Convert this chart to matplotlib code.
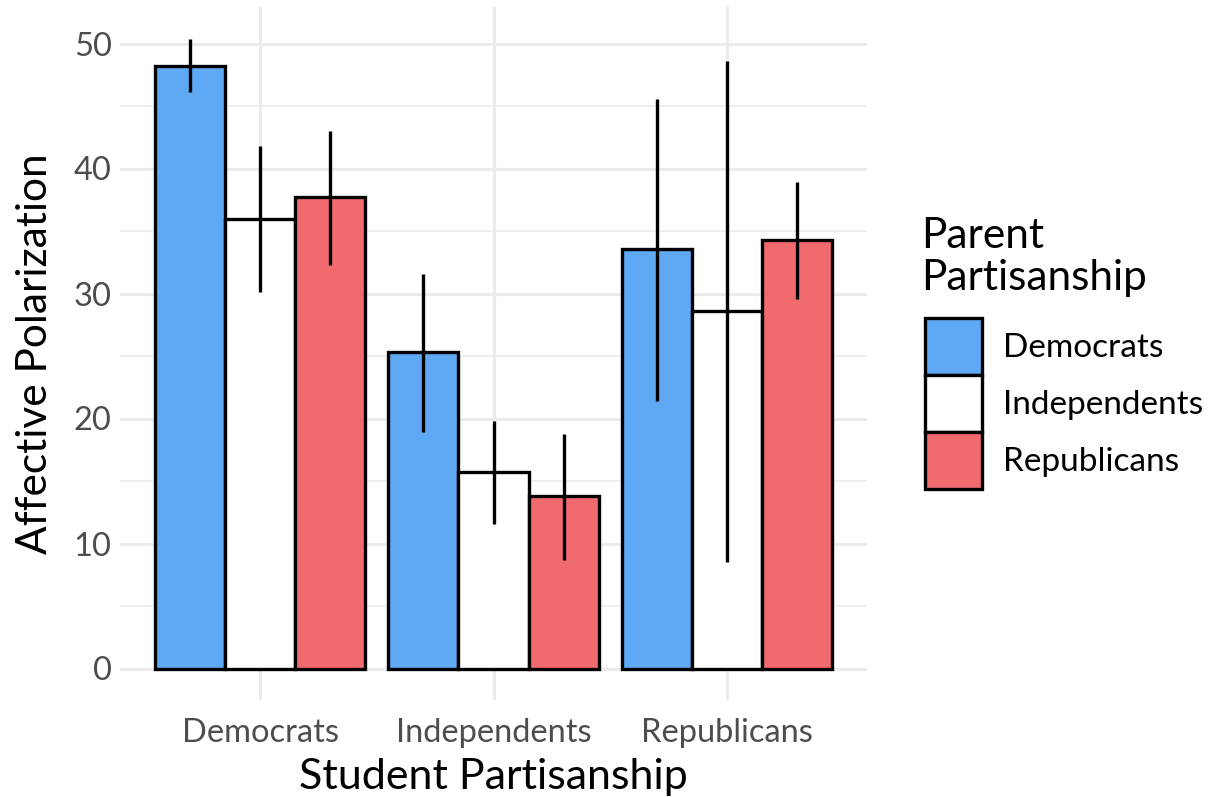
import matplotlib.pyplot as plt
import matplotlib.patches as mpatches
import numpy as np

plt.rcParams['font.family'] = ['Lato', 'DejaVu Sans']

# student partisanship groups on the x axis, parent partisanship as the fill
students = ['Democrats', 'Independents', 'Republicans']
parents = ['Democrats', 'Independents', 'Republicans']
colors = ['#5FA8F3', '#FFFFFF', '#F16A6E']

# mean affective polarization, one list per parent group
dem_parent = [48.2, 25.3, 33.6]
ind_parent = [36.0, 15.7, 28.6]
rep_parent = [37.7, 13.8, 34.3]

# confidence interval bounds
dem_low = [46.1, 18.9, 21.4]
dem_high = [50.4, 31.6, 45.6]
ind_low = [30.1, 11.6, 8.5]
ind_high = [41.8, 19.8, 48.6]
rep_low = [32.3, 8.7, 29.6]
rep_high = [43.0, 18.8, 38.9]

means = [dem_parent, ind_parent, rep_parent]
lows = [dem_low, ind_low, rep_low]
highs = [dem_high, ind_high, rep_high]

fig = plt.figure(figsize=(12.1, 7.97), dpi=100)
ax = fig.add_axes([120 / 1210, 1 - 700 / 797, 747 / 1210, 693 / 797])

x = np.arange(1, len(students) + 1)
width = 0.3
for i in range(len(parents)):
    pos = x + (i - 1) * width
    ax.bar(pos, means[i], width=width, color=colors[i], edgecolor='black',
           linewidth=2.4, zorder=2)
    ax.vlines(pos, lows[i], highs[i], color='black', linewidth=2.4, zorder=3)

ax.set_xlim(0.4, 3.6)
ax.set_ylim(-2.52, 52.92)
ax.set_xticks(x)
ax.set_xticklabels(students)
ax.set_yticks(np.arange(0, 51, 10))
ax.set_yticks(np.arange(5, 51, 10), minor=True)

ax.grid(which='major', color='#EBEBEB', linewidth=2.2, zorder=0)
ax.grid(which='minor', axis='y', color='#EBEBEB', linewidth=1.1, zorder=0)
ax.set_axisbelow(True)
for s in ax.spines.values():
    s.set_visible(False)
ax.tick_params(which='both', length=0, labelsize=23.5, labelcolor='#4D4D4D')
ax.tick_params(axis='x', pad=13)
ax.tick_params(axis='y', pad=6)

ax.set_xlabel('Student Partisanship', fontsize=31, labelpad=7)
ax.set_ylabel('Affective Polarization', fontsize=30.5, labelpad=14)

# legend title set apart from the keys
fig.text(921 / 1210, 1 - 217 / 797, 'Parent\nPartisanship', ha='left', va='top',
         fontsize=30.5, linespacing=1.12)
handles = [mpatches.Patch(facecolor=c, edgecolor='black', linewidth=2.4, label=p)
           for c, p in zip(colors, parents)]
leg = fig.legend(handles=handles, loc='upper left',
                 bbox_to_anchor=(925 / 1210, 1 - 318 / 797), frameon=False,
                 borderaxespad=0, borderpad=0,
                 fontsize=24, handlelength=1.72, handleheight=2.26,
                 labelspacing=0.0, handletextpad=0.62)

fig.savefig('out.png', dpi=100, facecolor='white')
